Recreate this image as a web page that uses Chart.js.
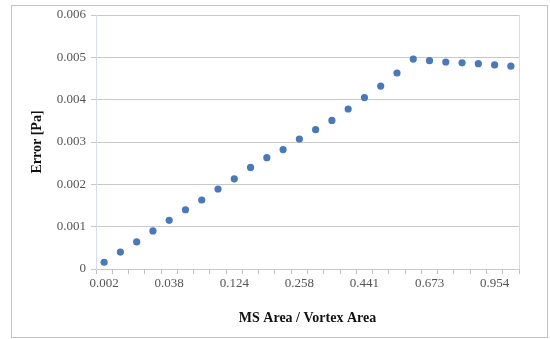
<!DOCTYPE html>
<html>
<head>
<meta charset="utf-8">
<script src="https://cdn.jsdelivr.net/npm/chart.js@4"></script>
<style>
  html, body { margin: 0; padding: 0; background: #fff; }
  #wrap { position: relative; width: 550px; height: 339px; }
</style>
</head>
<body>
<div id="wrap"><canvas id="errorChart" width="550" height="339"></canvas></div>
<script>
// MS area / vortex area ratio (only every 4th one is labelled)
const areaRatio = ['0.002', '0.007', '0.015', '0.025', '0.038', '0.055', '0.075', '0.098',
    '0.124', '0.153', '0.185', '0.220', '0.258', '0.299', '0.343', '0.391',
    '0.441', '0.494', '0.551', '0.610', '0.673', '0.738', '0.806', '0.880',
    '0.954', '1.000'];
// error in Pa
const errorPa = [0.00016, 0.00040, 0.00064, 0.00090, 0.00115, 0.00140, 0.00163, 0.00189,
    0.00213, 0.00240, 0.00263, 0.00282, 0.00307, 0.00329, 0.00351, 0.00378,
    0.00405, 0.00432, 0.00463, 0.00496, 0.00492, 0.00489, 0.00487, 0.00485,
    0.00482, 0.00479];
const yTicks = [0, 0.001, 0.002, 0.003, 0.004, 0.005, 0.006];

const serif = '"Liberation Serif", "Times New Roman", serif';

// outer frame and the right edge of the plot area
const framePlugin = {
    id: 'frame',
    afterDraw(chart) {
        const ctx = chart.ctx;
        const area = chart.chartArea;
        ctx.save();
        ctx.strokeStyle = '#c4c4c4';
        ctx.lineWidth = 1;
        ctx.strokeRect(11.5, 5.5, 536, 332);
        ctx.strokeStyle = '#d5dde8';
        ctx.beginPath();
        ctx.moveTo(Math.round(area.right) + 0.5, area.top);
        ctx.lineTo(Math.round(area.right) + 0.5, area.bottom);
        ctx.stroke();
        ctx.restore();
    }
};

new Chart(document.getElementById('errorChart'), {
    type: 'line',
    data: {
        labels: areaRatio,
        datasets: [{
            data: errorPa,
            showLine: false,
            pointRadius: 3.6,
            pointBorderWidth: 0,
            pointBackgroundColor: '#4a78b8',
            pointBorderColor: '#4a78b8'
        }]
    },
    options: {
        responsive: false,
        animation: false,
        devicePixelRatio: 1,
        layout: { padding: { left: 0, top: 15, right: 31, bottom: 0 } },
        plugins: {
            legend: { display: false },
            tooltip: { enabled: false }
        },
        scales: {
            x: {
                type: 'category',
                offset: true,
                grid: {
                    offset: true,
                    drawOnChartArea: false,
                    drawTicks: true,
                    tickLength: 5,
                    color: '#bfbfbf'
                },
                border: { color: '#c8c8c8' },
                ticks: {
                    autoSkip: false,
                    maxRotation: 0,
                    padding: 2,
                    color: '#555',
                    font: { family: serif, size: 13 },
                    callback: function(value, index) {
                        return index % 4 === 0 ? areaRatio[index] : '';
                    }
                },
                title: {
                    display: true,
                    text: 'MS Area / Vortex Area',
                    color: '#111',
                    font: { family: serif, size: 14, weight: 'bold' },
                    padding: { top: 0, bottom: 12 }
                },
                afterFit(scale) { scale.height = 70; }
            },
            y: {
                min: 0,
                max: 0.006,
                afterBuildTicks(scale) {
                    scale.ticks = yTicks.map(v => ({ value: v }));
                },
                grid: {
                    color: '#c8c8c8',
                    tickLength: 5,
                    drawTicks: true
                },
                border: { color: '#d5dde8' },
                ticks: {
                    padding: 5,
                    color: '#555',
                    font: { family: serif, size: 13 },
                    callback: v => v === 0 ? '0' : v.toFixed(3)
                },
                title: {
                    display: true,
                    text: 'Error [Pa]',
                    color: '#111',
                    font: { family: serif, size: 14, weight: 'bold' },
                    padding: { top: 29, bottom: 0 }
                },
                afterFit(scale) { scale.width = 96; }
            }
        }
    },
    plugins: [framePlugin]
});
</script>
</body>
</html>
